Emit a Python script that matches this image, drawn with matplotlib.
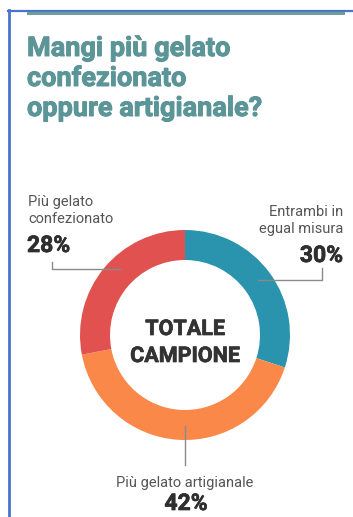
import matplotlib.pyplot as plt
import matplotlib.patheffects as pe
from matplotlib.lines import Line2D

# Survey shares (percent)
categories = ["Entrambi in\negual misura", "Più gelato artigianale", "Più gelato\nconfezionato"]
shares = [30, 42, 28]
colors = ["#2a93ad", "#fa8849", "#e0514f"]

title = "Mangi più gelato\nconfezionato\noppure artigianale?"
center_label = "TOTALE\nCAMPIONE"

W, H = 353, 517
fig = plt.figure(figsize=(W / 100, H / 100), dpi=100)
ax = fig.add_axes([0, 0, 1, 1])

plt.rcParams['font.family'] = ['Roboto', 'DejaVu Sans']

# donut, starting at twelve o'clock and going clockwise
ax.pie(shares, colors=colors, startangle=90, counterclock=False,
       center=(185, H - 335), radius=105,
       wedgeprops=dict(width=30, linewidth=0))
ax.set_xlim(0, W)
ax.set_ylim(0, H)
ax.set_aspect('auto')
ax.axis('off')


def py(y):
    # pixel row measured from the top -> data y
    return H - y


def heavy(col, w=0.7):
    # thicken bold glyphs a little
    return [pe.withStroke(linewidth=w, foreground=col)]


# frame lines
ax.add_line(Line2D([8, 352], [py(10.5), py(10.5)], color="#4a74c9", lw=1.6))
ax.add_line(Line2D([8.5, 8.5], [py(10), 0], color="#4a74c9", lw=2))
ax.add_line(Line2D([28, 343], [py(13), py(13)], color="#6f9c9c", lw=2.2))

# title
title_col = "#5b9597"
for i, line in enumerate(title.split("\n")):
    ax.text(27, py(56 + 30 * i), line, fontsize=19.5, fontweight='bold',
            color=title_col, va='baseline', ha='left', path_effects=heavy(title_col))

label_col = "#555555"
pct_col = "#2e2e2e"

# left label (confezionato)
lines = categories[2].split("\n")
ax.text(28, py(206), lines[0], fontsize=10.5, color=label_col, va='baseline', ha='left')
ax.text(28, py(223), lines[1], fontsize=10.5, color=label_col, va='baseline', ha='left')
ax.text(27, py(252), f"{shares[2]}%", fontsize=16.5, fontweight='bold', color=pct_col,
        va='baseline', ha='left', path_effects=heavy(pct_col, 0.5))

# right label (entrambi)
lines = categories[0].split("\n")
ax.text(343, py(216), lines[0], fontsize=10.5, color=label_col, va='baseline', ha='right')
ax.text(343, py(233), lines[1], fontsize=10.5, color=label_col, va='baseline', ha='right')
ax.text(343, py(262), f"{shares[0]}%", fontsize=16.5, fontweight='bold', color=pct_col,
        va='baseline', ha='right', path_effects=heavy(pct_col, 0.5))

# bottom label (artigianale)
ax.text(185, py(487), categories[1], fontsize=10.5, color=label_col, va='baseline', ha='center')
ax.text(186, py(510), f"{shares[1]}%", fontsize=16.5, fontweight='bold', color=pct_col,
        va='baseline', ha='center', path_effects=heavy(pct_col, 0.5))

# leader lines
lc = "#8a8a8a"
ax.add_line(Line2D([52, 52, 120], [py(262), py(269), py(269)], color=lc, lw=1))
ax.add_line(Line2D([258, 322, 322], [py(280), py(280), py(268)], color=lc, lw=1))
ax.add_line(Line2D([185, 185], [py(426), py(465)], color=lc, lw=1))

# centre text
for i, word in enumerate(center_label.split("\n")):
    ax.text(185, py(335 + 27 * i), word, fontsize=15.5, fontweight='bold', color="#333333",
            va='baseline', ha='center', path_effects=heavy("#333333", 0.5))

fig.savefig("out.png", dpi=100)
